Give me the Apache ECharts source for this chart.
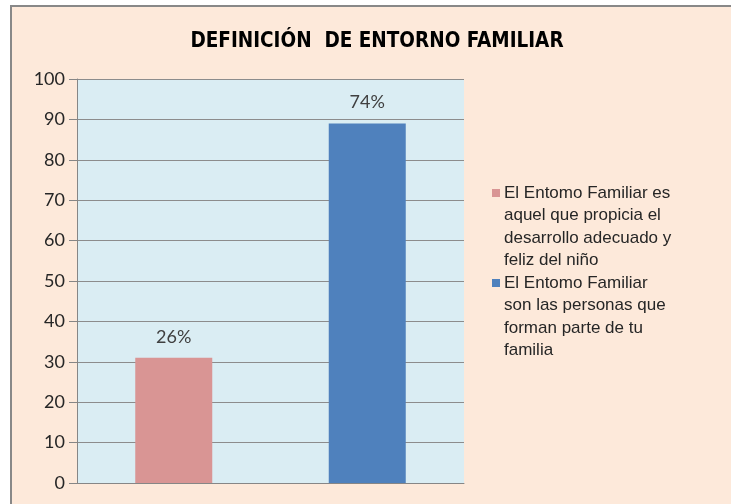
<!DOCTYPE html>
<html>
<head>
<meta charset="utf-8">
<script src="https://cdn.jsdelivr.net/npm/echarts@6/dist/echarts.min.js"></script>
<style>
html,body{margin:0;padding:0;background:#fff;}
#c{width:731px;height:504px;}
</style>
</head>
<body>
<div id="c"></div>
<script>
var categories = ['A', 'B'];
var seriesNames = [
  'El Entomo Familiar es\naquel que propicia el\ndesarrollo adecuado y\nfeliz del niño',
  'El Entomo Familiar\nson las personas que\nforman parte de tu\nfamilia'
];
var pinkValues = [31, '-'];
var blueValues = ['-', 89];
var barLabels = ['26%', '74%'];
var yTicks = [0, 10, 20, 30, 40, 50, 60, 70, 80, 90, 100];

var chart = echarts.init(document.getElementById('c'), null, {renderer: 'canvas'});
var iconPath = 'path://M0,7 L8,7 L8,15 L0,15 Z M0,0 M8,90';
function lbl(p) { return barLabels[p.dataIndex]; }
var labelStyle = {show: true, position: 'top', distance: 12, formatter: lbl,
  fontFamily: 'Lato', fontSize: 18, color: '#404040'};
chart.setOption({
  backgroundColor: '#ffffff',
  animation: false,
  graphic: [{
    type: 'rect', z: -10, silent: true,
    shape: {x: 11, y: 6, width: 760, height: 520},
    style: {fill: '#FDE9DA', stroke: '#888888', lineWidth: 2}
  }],
  title: {
    text: 'DEFINICIÓN  DE ENTORNO FAMILIAR',
    left: 372, top: 26, textAlign: 'center',
    textStyle: {fontFamily: '"Liberation Sans Narrow", "DejaVu Sans Condensed", "Liberation Sans", sans-serif', fontWeight: 'bold', fontSize: 20.5, color: '#000'}
  },
  legend: {
    orient: 'vertical', left: 487, top: 177,
    itemWidth: 8, itemHeight: 90, itemGap: 0,
    icon: iconPath,
    data: seriesNames,
    selectedMode: false,
    textStyle: {fontFamily: 'Liberation Sans', fontSize: 17, lineHeight: 22.5, color: '#262626', padding: [0,0,0,-1]}
  },
  grid: {left: 77, top: 79, right: 267, bottom: 21, show: true, backgroundColor: '#DAEDF3', borderWidth: 0},
  xAxis: {
    type: 'category', data: categories,
    axisLine: {show: true, lineStyle: {color: '#868686', width: 1}},
    axisTick: {show: false},
    axisLabel: {show: false}
  },
  yAxis: {
    type: 'value', min: 0, max: 100, interval: 10,
    axisLine: {show: true, lineStyle: {color: '#868686', width: 1}},
    axisTick: {show: true, length: 8, lineStyle: {color: '#868686'}},
    axisLabel: {margin: 12, fontFamily: 'Lato', fontSize: 18, color: '#262626'},
    splitLine: {show: true, lineStyle: {color: '#8c8c8c', width: 1}}
  },
  series: [
    {name: seriesNames[0], type: 'bar', data: pinkValues, barWidth: 77, barGap: '-100%',
     itemStyle: {color: '#D99594'}, label: labelStyle},
    {name: seriesNames[1], type: 'bar', data: blueValues, barWidth: 77,
     itemStyle: {color: '#4F81BD'}, label: labelStyle}
  ]
});
</script>
</body>
</html>
